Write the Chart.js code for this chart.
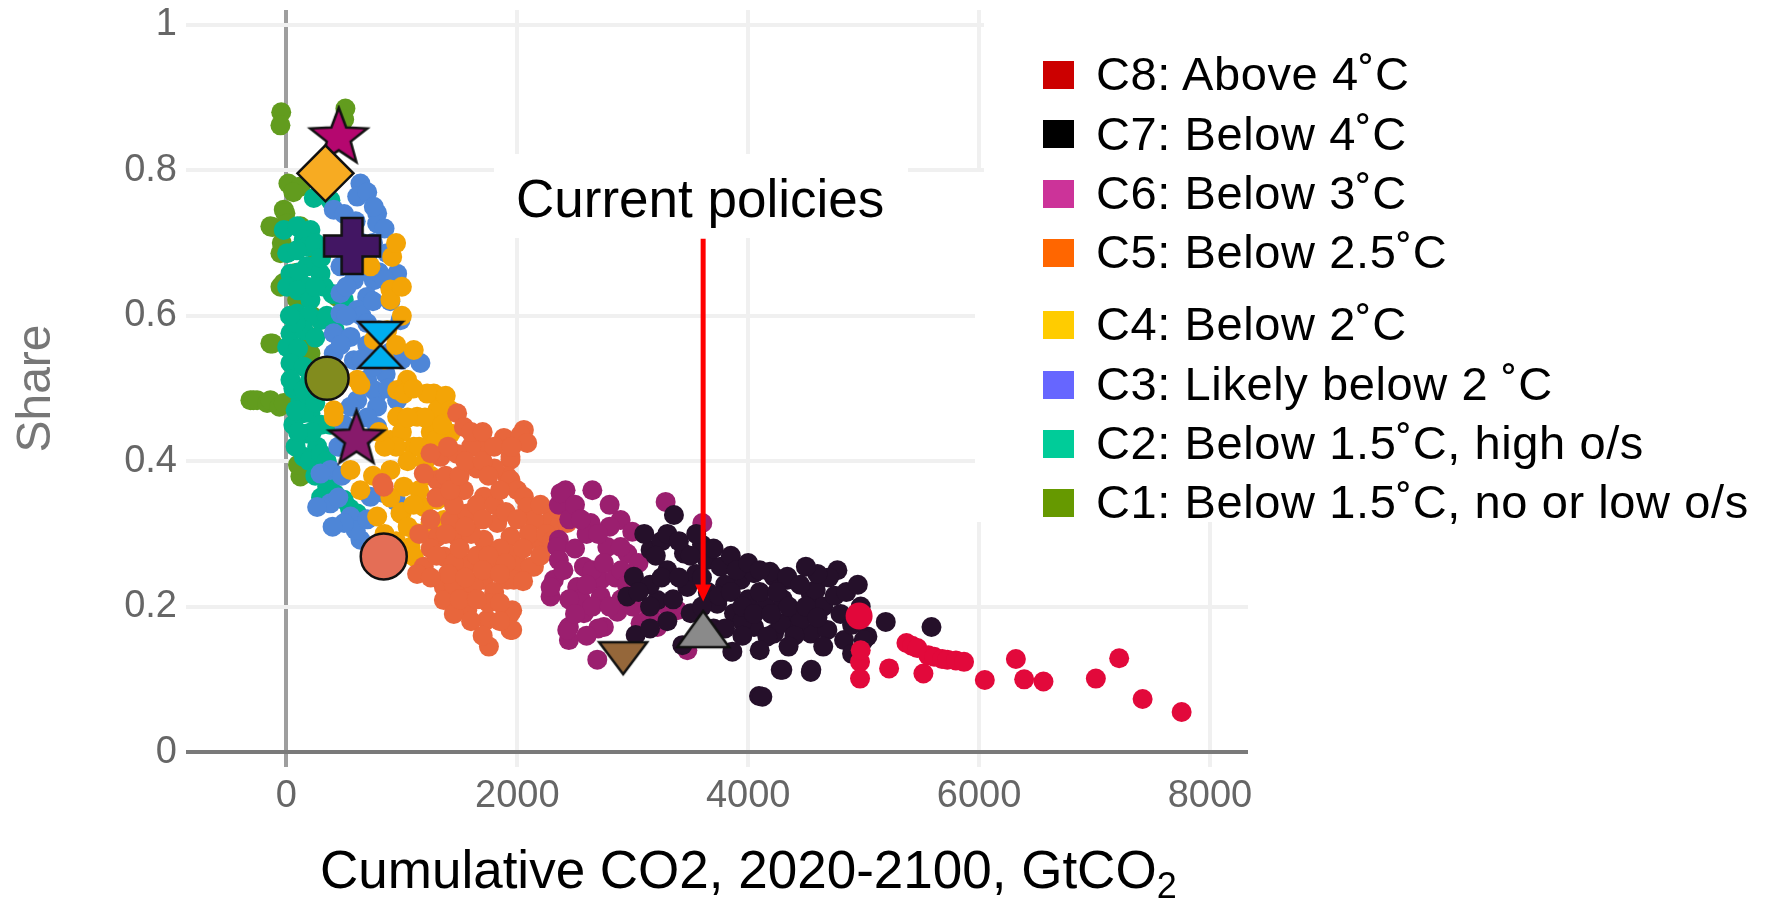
<!DOCTYPE html>
<html>
<head>
<meta charset="utf-8">
<script src="https://cdn.jsdelivr.net/npm/chart.js@4.4.1/dist/chart.umd.min.js"></script>
<style>
  html, body { margin: 0; padding: 0; background: #fff; }
  #wrap { position: relative; width: 1772px; height: 900px; overflow: hidden; font-family: 'Liberation Sans', Arial, sans-serif; }
  #chart { position: absolute; left: 0; top: 0; }
  .sq { position: absolute; left: 1043px; width: 31px; height: 28px; }
  .lt { position: absolute; left: 1096px; font-size: 47px; line-height: 47px; letter-spacing: 0.6px; white-space: nowrap; color: #000; }
  #xtitle { position: absolute; left: 320px; top: 843px; font-size: 53px; line-height: 53px; white-space: nowrap; color: #000; }
  #xtitle sub { font-size: 36px; line-height: 0; vertical-align: baseline; position: relative; top: 10px; }
  #note { position: absolute; left: 516px; top: 172px; font-size: 53px; line-height: 53px; white-space: nowrap; color: #000; }
</style>
</head>
<body>
<div id="wrap">
  <canvas id="chart" width="1772" height="900"></canvas>
  <div id="note">Current policies</div>
  <div id="xtitle">Cumulative CO2, 2020-2100, GtCO<sub>2</sub></div>
  <div id="legend"></div>
</div>
<script>
// scenario categories (legend order, top to bottom)
const legendLabels = ['C8: Above 4˚C', 'C7: Below 4˚C', 'C6: Below 3˚C', 'C5: Below 2.5˚C',
  'C4: Below 2˚C', 'C3: Likely below 2 ˚C', 'C2: Below 1.5˚C, high o/s', 'C1: Below 1.5˚C, no or low o/s'];
const legendColors = ['#cc0000', '#000000', '#cc3399', '#ff6600', '#ffcc00', '#6666ff', '#00cc99', '#669900'];

const xTickValues = [0, 2000, 4000, 6000, 8000];
const yTickValues = [0, 0.2, 0.4, 0.6, 0.8, 1];

// scenario points [cumulative CO2, share]
const c1 = [[-45,0.880],[-52,0.862],[511,0.885],[500,0.870],[17,0.782],[121,0.778],[60,0.770],[-23,0.746],[-9,0.741],
  [-139,0.723],[-121,0.722],[6,0.727],[121,0.723],[-52,0.686],[-40,0.700],[-52,0.640],[-26,0.645],[266,0.677],[93,0.622],
  [78,0.659],[439,0.626],[-139,0.562],[-121,0.562],[208,0.571],[208,0.548],[220,0.600],[-312,0.484],[-286,0.484],[-254,0.484],
  [-167,0.480],[-139,0.484],[-61,0.475],[-23,0.480],[121,0.379],[100,0.395]];
const c2 = [[237,0.762],[381,0.759],[300,0.770],[-23,0.718],[93,0.723],[208,0.718],[150,0.705],[6,0.686],[179,0.695],[90,0.690],
  [35,0.658],[179,0.668],[295,0.658],[110,0.660],[6,0.640],[179,0.640],[324,0.640],[100,0.635],[208,0.622],[497,0.622],
  [400,0.630],[93,0.603],[295,0.594],[200,0.600],[35,0.576],[150,0.580],[6,0.557],[100,0.555],[35,0.535],[150,0.530],
  [35,0.512],[121,0.484],[60,0.500],[208,0.466],[150,0.498],[150,0.466],[60,0.450],[179,0.438],[266,0.420],[150,0.406],
  [80,0.420],[200,0.400],[353,0.365],[497,0.347],[613,0.328],[250,0.380],[420,0.355],[550,0.335],
  [250,0.700],[300,0.680],[250,0.640],[80,0.590],[250,0.570],[300,0.520],[200,0.510],[250,0.480],[80,0.470],[300,0.450],
  [220,0.440],[300,0.410],[100,0.440],[30,0.600],[350,0.600],[420,0.580],[350,0.400],[450,0.380],[300,0.350],[380,0.450]];
const c3 = [[641,0.782],[613,0.764],[700,0.770],[786,0.741],[786,0.727],[410,0.746],[757,0.750],[500,0.740],[600,0.730],[873,0.686],
  [468,0.668],[584,0.649],[757,0.649],[959,0.658],[468,0.631],[699,0.626],[468,0.603],[613,0.608],[410,0.576],[555,0.571],
  [410,0.548],[584,0.539],[988,0.594],[1161,0.535],[699,0.512],[613,0.484],[786,0.493],[959,0.484],[757,0.498],[786,0.475],
  [786,0.447],[381,0.388],[295,0.383],[381,0.342],[555,0.324],[266,0.337],[641,0.292],[600,0.305],[500,0.315],[843,0.356],
  [728,0.351],[950,0.345],[555,0.475],[500,0.450],[450,0.420],[700,0.560],[800,0.580],[900,0.620],[650,0.700],[550,0.690],
  [1000,0.540],[860,0.520],[650,0.600],[700,0.590],[750,0.620],[800,0.660],[850,0.650],[700,0.680],[750,0.700],[850,0.720],
  [620,0.660],[520,0.640],[520,0.600],[470,0.560],[650,0.540],[750,0.530],[900,0.550],[880,0.500],[700,0.460],[650,0.430],
  [550,0.440],[480,0.380],[450,0.350],[400,0.310],[700,0.320]];
const c4 = [[916,0.681],[728,0.668],[901,0.636],[901,0.622],[873,0.580],[1103,0.553],[1046,0.512],[959,0.498],[1277,0.493],[613,0.512],
  [410,0.470],[757,0.567],[641,0.505],[1017,0.493],[1219,0.493],[959,0.461],[1132,0.461],[1306,0.470],[901,0.429],[1103,0.420],
  [410,0.461],[555,0.388],[641,0.360],[901,0.388],[1017,0.365],[988,0.328],[1190,0.337],[1306,0.347],[1364,0.319],[786,0.324],
  [1132,0.301],[1248,0.315],[1421,0.438],[1075,0.282],[1103,0.269],[1050,0.400],[1200,0.400],[1150,0.360],[850,0.300],[950,0.290],
  [1000,0.440],[1250,0.440],[1380,0.490],[1420,0.470],[950,0.560],[1000,0.600],[850,0.540],[1100,0.500],[1200,0.460],[1300,0.430],
  [1050,0.460],[950,0.420],[850,0.420],[1150,0.420],[1250,0.380],[1000,0.330],[1100,0.340],[1200,0.300],[1050,0.310],[900,0.350],
  [750,0.380],[800,0.440],[1350,0.450],[1000,0.640],[950,0.700]];
const c5 = [[1479,0.466],[1537,0.447],[829,0.370],[843,0.365],[1739,0.420],[1884,0.432],[2057,0.443],[2028,0.436],[2086,0.425],[1941,0.402],
  [1913,0.379],[1941,0.406],[1941,0.374],[1335,0.406],[1306,0.374],[1190,0.383],[1248,0.411],[1537,0.360],[1710,0.351],[2000,0.360],
  [2057,0.351],[2086,0.337],[2288,0.319],[2144,0.319],[2375,0.315],[2433,0.315],[1421,0.319],[1566,0.328],[1826,0.315],[1479,0.296],
  [1710,0.292],[1941,0.296],[2173,0.292],[1306,0.296],[1190,0.255],[1364,0.269],[1566,0.259],[1797,0.255],[2000,0.259],[2144,0.255],
  [1913,0.273],[2115,0.255],[1132,0.245],[1364,0.227],[1537,0.218],[1710,0.237],[1913,0.237],[1970,0.237],[1364,0.209],[1566,0.195],
  [1739,0.182],[1956,0.195],[1941,0.191],[1956,0.168],[1941,0.168],[1754,0.145],[1650,0.340],[1800,0.340],[1450,0.340],[1600,0.300],
  [1850,0.280],[1650,0.270],[1450,0.260],[1250,0.280],[1620,0.230],[1800,0.220],[1450,0.230],[1650,0.390],[1800,0.390],[1600,0.420],
  [1480,0.410],[2200,0.340],[1250,0.320],[1450,0.190],[1600,0.180],[1750,0.205],
  [1300,0.350],[1380,0.380],[1420,0.360],[1500,0.380],[1550,0.400],[1700,0.400],[1750,0.380],[1850,0.360],[1900,0.330],[2000,0.320],
  [2100,0.300],[2250,0.300],[1700,0.320],[1550,0.310],[1380,0.300],[1300,0.270],[1500,0.280],[1750,0.270],[1900,0.260],[2050,0.280],
  [2200,0.270],[1400,0.245],[1550,0.240],[1700,0.250],[1850,0.245],[2050,0.235],[1500,0.210],[1650,0.210],[1850,0.205],[1700,0.160],
  [1850,0.180],[1600,0.440],[1700,0.440],[1800,0.420],[1950,0.420],[1400,0.420],[1150,0.300],[1250,0.240],[2300,0.290],[2350,0.335]];
const c6 = [[2418,0.360],[2650,0.360],[2360,0.340],[2375,0.356],[2635,0.315],[2895,0.319],[2996,0.303],[3285,0.344],[3603,0.315],[2360,0.292],
  [2346,0.282],[2360,0.264],[2577,0.255],[2780,0.282],[2953,0.273],[2895,0.282],[2317,0.237],[2288,0.214],[2288,0.227],[2519,0.227],
  [2722,0.237],[2722,0.214],[2577,0.191],[2447,0.172],[2447,0.154],[2433,0.168],[2750,0.172],[2866,0.193],[3068,0.177],[3213,0.172],
  [3386,0.195],[2693,0.127],[3473,0.140],[2850,0.240],[2500,0.280],[2600,0.300],[2800,0.310],[2650,0.250],[2550,0.210],[2900,0.210],
  [2450,0.320],[2500,0.340],[2550,0.320],[2700,0.300],[2750,0.260],[2900,0.250],[2400,0.250],[2450,0.210],[2600,0.230],[2650,0.200],
  [2800,0.200],[2950,0.230],[3000,0.200],[2700,0.170],[2600,0.160],[3300,0.200],[3150,0.190],[2500,0.190],[2800,0.340],[3050,0.260]];
const c7 = [[3357,0.326],[3155,0.278],[3444,0.273],[3645,0.264],[3762,0.255],[3010,0.241],[2953,0.214],[3213,0.209],[3473,0.227],[3732,0.204],
  [3935,0.237],[4051,0.246],[4224,0.241],[4339,0.237],[3877,0.191],[4051,0.172],[4224,0.163],[4397,0.182],[4542,0.218],[4542,0.163],
  [3430,0.147],[3025,0.161],[3863,0.138],[4282,0.113],[4542,0.110],[4094,0.077],[3502,0.191],[4189,0.248],[4339,0.241],[4773,0.250],
  [4585,0.223],[4282,0.177],[4166,0.159],[4455,0.182],[4686,0.168],[4831,0.154],[5033,0.159],[5192,0.179],[5588,0.172],[4296,0.113],
  [4547,0.113],[4123,0.076],[4975,0.200],[5001,0.154],[3300,0.250],[3550,0.245],[3350,0.210],[3650,0.220],[3800,0.230],[4000,0.210],
  [4150,0.200],[4300,0.210],[4450,0.230],[4650,0.200],[4800,0.190],[4900,0.175],[3950,0.180],[4100,0.220],[3150,0.230],[3700,0.170],
  [4400,0.160],[4700,0.240],[3250,0.290],[3600,0.285],
  [3100,0.300],[3200,0.270],[3300,0.300],[3400,0.290],[3500,0.270],[3550,0.300],[3700,0.280],[3850,0.270],[3900,0.250],[4000,0.260],
  [4100,0.250],[3050,0.220],[3150,0.200],[3250,0.240],[3400,0.240],[3600,0.240],[3750,0.215],[3850,0.220],[3950,0.200],[4050,0.190],
  [4200,0.190],[4250,0.220],[4350,0.200],[4500,0.200],[4600,0.185],[4750,0.215],[4850,0.220],[4950,0.230],[4600,0.245],[4500,0.255],
  [3600,0.200],[3800,0.170],[3950,0.160],[4100,0.140],[4350,0.145],[4650,0.145],[4900,0.135],[3300,0.180],[3150,0.170]];
const c8 = [[4969,0.124],[4969,0.101],[4975,0.140],[5221,0.115],[5371,0.150],[5420,0.146],[5466,0.143],[5518,0.108],[5560,0.133],[5611,0.131],
  [5680,0.128],[5726,0.127],[5800,0.126],[5870,0.124],[6050,0.099],[6319,0.128],[6391,0.100],[6558,0.097],[7012,0.101],[7214,0.129],
  [7417,0.073],[7755,0.055]];

// illustrative pathways
const markerX = [453, 338, 569, 815, 352, 607, 843, 2917, 3610, 4961];
const markerY = [0.845, 0.796, 0.696, 0.560, 0.514, 0.430, 0.269, 0.129, 0.169, 0.187];

// current policies arrow (x, from share, to share)
const arrowX = 3610, arrowFrom = 0.706, arrowTo = 0.207;

// ---- styles ----
const catPoints = [c1, c2, c3, c4, c5, c6, c7, c8];
const catNames = ['C1', 'C2', 'C3', 'C4', 'C5', 'C6', 'C7', 'C8'];
const catColors = ['#629c1e', '#00b48d', '#4e86d7', '#f3a406', '#e8663c', '#9b1f6f', '#25102a', '#e2093b'];

function shapeImage(kind, w, h, fill) {
  const pad = 3;
  const c = document.createElement('canvas');
  c.width = Math.ceil(w + pad * 2); c.height = Math.ceil(h + pad * 2);
  const g = c.getContext('2d');
  const cx = c.width / 2, cy = c.height / 2;
  g.beginPath();
  if (kind === 'star') {
    const R = h / 2, r = R * 0.42;
    for (let k = 0; k < 10; k++) {
      const a = -Math.PI / 2 + k * Math.PI / 5;
      const rr = k % 2 ? r : R;
      g.lineTo(cx + rr * Math.cos(a), cy + rr * Math.sin(a));
    }
  } else if (kind === 'plus') {
    const a = w / 2, t = 10.5;
    [[-t,-a],[t,-a],[t,-t],[a,-t],[a,t],[t,t],[t,a],[-t,a],[-t,t],[-a,t],[-a,-t],[-t,-t]]
      .forEach(p => g.lineTo(cx + p[0], cy + p[1]));
  } else if (kind === 'hourglass') {
    g.moveTo(cx - w / 2, cy - h / 2); g.lineTo(cx + w / 2, cy - h / 2);
    g.lineTo(cx - w / 2, cy + h / 2); g.lineTo(cx + w / 2, cy + h / 2);
  } else if (kind === 'triUp') {
    g.moveTo(cx, cy - h / 2); g.lineTo(cx + w / 2, cy + h / 2); g.lineTo(cx - w / 2, cy + h / 2);
  } else if (kind === 'triDown') {
    g.moveTo(cx - w / 2, cy - h / 2); g.lineTo(cx + w / 2, cy - h / 2); g.lineTo(cx, cy + h / 2);
  }
  g.closePath();
  g.fillStyle = fill; g.fill();
  g.lineWidth = 2.5; g.strokeStyle = '#111'; g.lineJoin = 'miter'; g.stroke();
  return c;
}

const markerStyles = [
  shapeImage('star', 60, 60, '#b5076f'), 'rectRot', shapeImage('plus', 56, 56, '#421663'),
  shapeImage('hourglass', 44, 46, '#00aeef'), 'circle', shapeImage('star', 58, 58, '#871a6b'), 'circle',
  shapeImage('triDown', 48, 32, '#95673a'), shapeImage('triUp', 52, 36, '#8a8a8a'), 'circle'];
const markerFill = ['#b5076f', '#f7ab22', '#421663', '#00aeef', '#828c1e', '#871a6b', '#e46e56', '#95673a', '#8a8a8a', '#e2073a'];
const markerRadius = [20, 28, 20, 20, 21.5, 20, 23, 20, 20, 13.5];
const markerBorder = [0, 2.5, 0, 0, 2.5, 0, 2.5, 0, 0, 0];

// white boxes behind the annotation and the legend (hide grid lines there)
const maskBoxes = [[494, 154, 414, 84], [984, 0, 788, 522], [975, 172, 9, 350]];

const datasets = [{
  label: 'Illustrative pathways',
  data: markerX.map((x, i) => ({ x, y: markerY[i] })),
  pointStyle: markerStyles, pointRadius: markerRadius, pointBackgroundColor: markerFill,
  pointBorderColor: '#111', pointBorderWidth: markerBorder, order: 0
}];
catPoints.forEach((pts, i) => {
  datasets.push({
    label: catNames[i],
    data: pts.map(p => ({ x: p[0], y: p[1] })),
    pointRadius: 10, pointBackgroundColor: catColors[i], pointBorderWidth: 0,
    order: 9 - i
  });
});

const overlay = {
  id: 'overlay',
  beforeDatasetsDraw(chart) {
    const g = chart.ctx;
    g.save(); g.fillStyle = '#fff';
    maskBoxes.forEach(b => g.fillRect(b[0], b[1], b[2], b[3]));
    g.restore();
  },
  afterDatasetsDraw(chart) {
    const g = chart.ctx, xs = chart.scales.x, ys = chart.scales.y;
    const px = xs.getPixelForValue(arrowX);
    const y0 = ys.getPixelForValue(arrowFrom), y1 = ys.getPixelForValue(arrowTo);
    g.save();
    g.strokeStyle = '#ff0000'; g.fillStyle = '#ff0000'; g.lineWidth = 5;
    g.beginPath(); g.moveTo(px, y0); g.lineTo(px, y1 - 14); g.stroke();
    g.beginPath(); g.moveTo(px - 8, y1 - 17); g.lineTo(px + 8, y1 - 17); g.lineTo(px, y1); g.closePath(); g.fill();
    g.restore();
  }
};

const fam = "'Liberation Sans', Arial, sans-serif";
new Chart(document.getElementById('chart').getContext('2d'), {
  type: 'scatter',
  data: { datasets },
  plugins: [overlay],
  options: {
    responsive: false, animation: false, devicePixelRatio: 1,
    layout: { autoPadding: false, padding: { top: 10, right: 524, left: 0, bottom: 0 } },
    plugins: { legend: { display: false }, tooltip: { enabled: false } },
    scales: {
      x: {
        type: 'linear', min: -870, max: 8330,
        afterFit: s => { s.height = 133; },
        afterBuildTicks: s => { s.ticks = xTickValues.map(v => ({ value: v })); },
        border: { display: false },
        grid: { drawTicks: false, lineWidth: 4, color: c => c.tick && c.tick.value === 0 ? '#9e9e9e' : '#f0f0f0' },
        ticks: { padding: 7, autoSkip: false, maxRotation: 0, color: '#666', font: { family: fam, size: 38 }, callback: v => String(v) }
      },
      y: {
        min: -0.0206, max: 1.0206,
        afterFit: s => { s.width = 186; },
        afterBuildTicks: s => { s.ticks = yTickValues.map(v => ({ value: v })); },
        border: { display: false },
        grid: { drawTicks: false, lineWidth: 4, color: c => c.tick && c.tick.value === 0 ? '#7a7a7a' : '#f0f0f0' },
        ticks: { padding: 9, autoSkip: false, color: '#666', font: { family: fam, size: 38, lineHeight: 0.01 }, callback: v => String(+v.toFixed(1)) },
        title: { display: true, text: 'Share', color: '#777', font: { family: fam, size: 48 }, padding: { top: 8, bottom: 0 } }
      }
    }
  }
});

// legend
const legend = document.getElementById('legend');
legendLabels.forEach((t, i) => {
  const top = 61 + i * 59.3 + (i >= 4 ? 13 : 0);
  legend.innerHTML += `<div class="sq" style="top:${top}px;background:${legendColors[i]}"></div>` +
    `<div class="lt" style="top:${top - 10.8}px">${t}</div>`;
});
</script>
</body>
</html>
